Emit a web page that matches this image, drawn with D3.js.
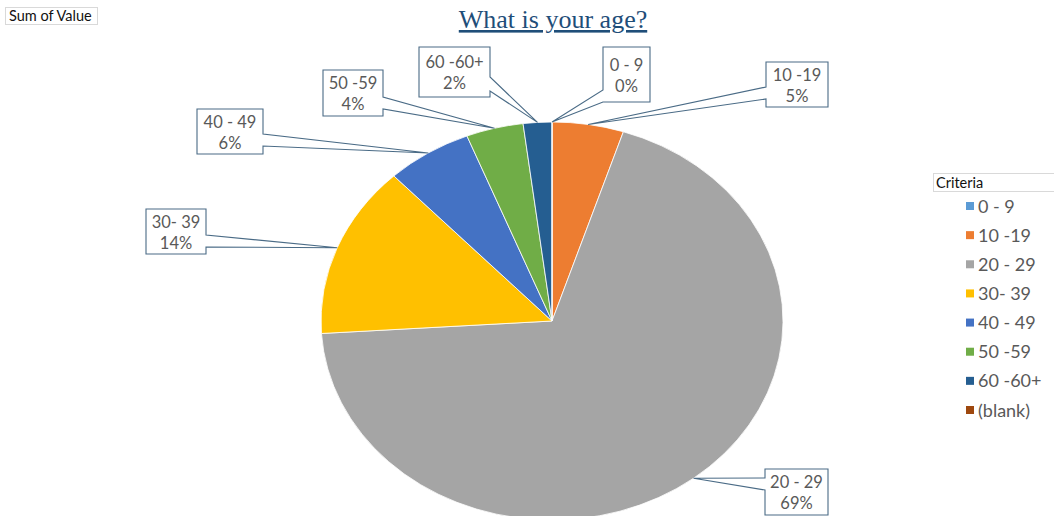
<!DOCTYPE html>
<html>
<head>
<meta charset="utf-8">
<script src="https://cdn.jsdelivr.net/npm/d3@7"></script>
<style>
  html, body { margin: 0; padding: 0; background: #fff; }
  svg { display: block; }
</style>
</head>
<body>
<svg id="chart" width="1054" height="516"></svg>
<script>
// Age groups and their share of responses (percent)
const categories = ["0 - 9", "10 -19", "20 - 29", "30- 39", "40 - 49", "50 -59", "60 -60+", "(blank)"];
const values = [0, 5, 69, 14, 6, 4, 2, 0];
const colors = ["#5B9BD5", "#ED7D31", "#A5A5A5", "#FFC000", "#4472C4", "#70AD47", "#255E91", "#9E480E"];

const chartTitle = "What is your age?";
const fieldLabel = "Sum of Value";
const legendTitle = "Criteria";

// Callout boxes: x, y, w, h, and the two points where the pointer leaves the box edge
const calloutLayout = {
  "0 - 9":   { x: 603, y: 47,  w: 47, h: 55, b0: 90,  b1: 102 },
  "10 -19":  { x: 766, y: 62,  w: 62, h: 45, b0: 87,  b1: 99 },
  "20 - 29": { x: 765, y: 469, w: 63, h: 46, b0: 478, b1: 490 },
  "30- 39":  { x: 146, y: 209, w: 60, h: 45, b0: 235, b1: 247 },
  "40 - 49": { x: 197, y: 109, w: 66, h: 45, b0: 134, b1: 146 },
  "50 -59":  { x: 323, y: 70,  w: 60, h: 46, b0: 97,  b1: 109 },
  "60 -60+": { x: 419, y: 47,  w: 71, h: 50, b0: 77,  b1: 91 }
};

const sans = "Lato, 'Open Sans', sans-serif";
const svg = d3.select("#chart");
const cx = 552, cy = 321, ry = 199, rx = 231;
const sx = rx / ry;

// "Sum of Value" field button
svg.append("rect").attr("x", 5.5).attr("y", 7.5).attr("width", 92).attr("height", 17)
  .attr("fill", "#fff").attr("stroke", "#d9d9d9");
svg.append("text").attr("x", 9).attr("y", 20.5).text(fieldLabel)
  .attr("font-family", sans).attr("font-size", 14.5).attr("fill", "#111");

// Title
svg.append("text").attr("x", 553).attr("y", 28).attr("text-anchor", "middle")
  .attr("font-family", "'Liberation Serif', 'DejaVu Serif', serif").attr("font-size", 26)
  .attr("fill", "#1F4E79").attr("text-decoration", "underline").text(chartTitle);

// Pie
const pie = d3.pie().sort(null).value(d => d.value);
const data = categories.map((c, i) => ({ cat: c, value: values[i], color: colors[i] }));
const arcs = pie(data);
const total = d3.sum(values);
const pct = d3.format(".0%");

const arc = d3.arc().innerRadius(0).outerRadius(ry);
const edge = d3.arc().innerRadius(ry).outerRadius(ry);

const g = svg.append("g").attr("transform", `translate(${cx},${cy}) scale(${sx},1)`);
g.selectAll("path").data(arcs).enter().append("path")
  .attr("d", arc)
  .attr("fill", d => d.data.color)
  .attr("stroke", "#fff").attr("stroke-width", 0.8)
  .attr("vector-effect", "non-scaling-stroke");

// Callouts
const calloutG = svg.append("g");
arcs.forEach(a => {
  const L = calloutLayout[a.data.cat];
  if (!L) return;
  const c = edge.centroid(a);
  const tx = cx + c[0] * sx, ty = cy + c[1];
  const { x, y, w, h, b0, b1 } = L;
  let p;
  if (tx > x + w) {
    p = `M${x},${y}H${x + w}V${b0}L${tx},${ty}L${x + w},${b1}V${y + h}H${x}Z`;
  } else {
    p = `M${x},${y}H${x + w}V${y + h}H${x}V${b1}L${tx},${ty}L${x},${b0}Z`;
  }
  calloutG.append("path").attr("d", p)
    .attr("fill", "#fff").attr("stroke", "#4a6b86").attr("stroke-width", 1.1)
    .attr("stroke-linejoin", "miter");
  const t = calloutG.append("text").attr("text-anchor", "middle")
    .attr("font-family", sans).attr("font-size", 16.5)
    .attr("fill", "#595959");
  const mx = x + w / 2, my = y + h / 2;
  t.append("tspan").attr("x", mx).attr("y", my - 4).text(a.data.cat);
  t.append("tspan").attr("x", mx).attr("y", my + 17).text(pct(a.data.value / total));
});

// Legend
svg.append("rect").attr("x", 933.5).attr("y", 173.5).attr("width", 125).attr("height", 18)
  .attr("fill", "#fff").attr("stroke", "#d9d9d9");
svg.append("text").attr("x", 936).attr("y", 188).text(legendTitle)
  .attr("font-family", sans).attr("font-size", 14.5).attr("fill", "#111");

const ly = d3.scalePoint().domain(categories).range([206, 410]);
const leg = svg.append("g").selectAll("g").data(data).enter().append("g")
  .attr("transform", d => `translate(966,${ly(d.cat)})`);
leg.append("rect").attr("x", 0).attr("y", -4).attr("width", 8).attr("height", 8)
  .attr("fill", d => d.color);
leg.append("text").attr("x", 12).attr("y", 6.5).text(d => d.cat)
  .attr("font-family", sans).attr("font-size", 18).attr("fill", "#595959");
</script>
</body>
</html>
